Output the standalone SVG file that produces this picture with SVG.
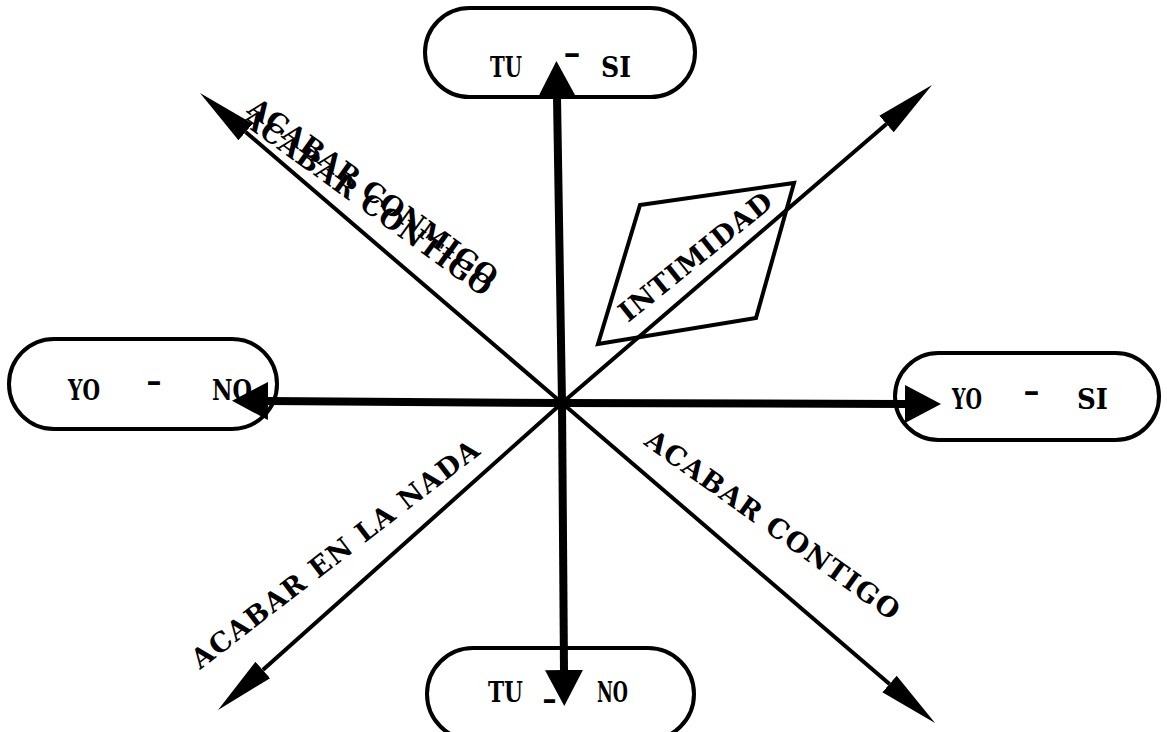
<svg xmlns="http://www.w3.org/2000/svg" width="1167" height="732" viewBox="0 0 1167 732">
<style>
.box{fill:none;stroke:#000;stroke-width:4}
.t{font-family:"DejaVu Serif","Liberation Serif",serif;font-weight:bold;font-size:28px;fill:#000}
.d{font-family:"DejaVu Serif","Liberation Serif",serif;font-weight:bold;font-size:27px;fill:#000}
.thick{fill:none;stroke:#000;stroke-width:8;marker-end:url(#ah)}
.thin{fill:none;stroke:#000;stroke-width:4;marker-end:url(#ahs)}
</style>
<defs>
<marker id="ah" markerUnits="userSpaceOnUse" markerWidth="40" markerHeight="44" viewBox="0 -22 40 44" refX="0" refY="0" orient="auto"><path d="M0,-19 L36,0 L0,19 Z" fill="#000"/></marker>
<marker id="ahs" markerUnits="userSpaceOnUse" markerWidth="62" markerHeight="26" viewBox="0 -13 62 26" refX="0" refY="0" orient="auto"><path d="M0,-11 L60,0 L0,11 Z" fill="#000"/></marker>
</defs>
<rect width="1167" height="732" fill="#fff"/>

<g id="node-tu-si">
<rect class="box" x="425" y="8" width="270" height="89" rx="44.5"/>
<text class="t" x="490" y="77" textLength="32" lengthAdjust="spacingAndGlyphs">TU</text>
<text class="t" x="563" y="63" textLength="18" lengthAdjust="spacingAndGlyphs">-</text>
<text class="t" x="601" y="77" textLength="30" lengthAdjust="spacingAndGlyphs">SI</text>
</g>

<g id="node-yo-no">
<rect class="box" x="9" y="339" width="268" height="90" rx="45"/>
<text class="t" x="68" y="400" textLength="32" lengthAdjust="spacingAndGlyphs">YO</text>
<text class="t" x="146" y="391" textLength="16" lengthAdjust="spacingAndGlyphs">-</text>
<text class="t" x="212" y="400" textLength="40" lengthAdjust="spacingAndGlyphs">NO</text>
</g>

<g id="node-yo-si">
<rect class="box" x="895" y="353" width="264" height="87" rx="43.5"/>
<text class="t" x="952" y="409" textLength="30" lengthAdjust="spacingAndGlyphs">YO</text>
<text class="t" x="1023" y="401" textLength="17" lengthAdjust="spacingAndGlyphs">-</text>
<text class="t" x="1077" y="409" textLength="31" lengthAdjust="spacingAndGlyphs">SI</text>
</g>

<g id="node-tu-no">
<rect class="box" x="427" y="648" width="267" height="92" rx="46"/>
<text class="t" x="488" y="702" textLength="35" lengthAdjust="spacingAndGlyphs">TU</text>
<text class="t" x="542" y="709" textLength="15" lengthAdjust="spacingAndGlyphs">-</text>
<text class="t" x="597" y="702" textLength="31" lengthAdjust="spacingAndGlyphs">NO</text>
</g>

<g id="node-intimidad">
<path class="box" d="M640,205 L794,183 L756,318 L598,344 Z"/>
<text class="d" transform="translate(628,323) rotate(-38.8)" textLength="188" lengthAdjust="spacing">INTIMIDAD</text>
</g>

<g id="label-conmigo">
<text class="d" transform="translate(246,112) rotate(35.8)" textLength="300" lengthAdjust="spacing">ACABAR CONMIGO</text>
<text class="d" transform="translate(240,122) rotate(35.8)" textLength="300" lengthAdjust="spacing">ACABAR CONTIGO</text>
</g>

<g id="label-nada">
<text class="d" transform="translate(200,670) rotate(-37.6)" textLength="355" lengthAdjust="spacing">ACABAR EN LA NADA</text>
</g>

<g id="label-contigo">
<text class="d" transform="translate(643,444) rotate(35.5)" textLength="305" lengthAdjust="spacing">ACABAR CONTIGO</text>
</g>

<g id="connectors">
<path class="thin" d="M562,403 L245.6,132"/>
<path class="thin" d="M562,403 L889.5,684"/>
<path class="thin" d="M562,403 L886.5,124"/>
<path class="thin" d="M562,403 L262.8,670"/>
<path class="thick" d="M562,403 L557,97"/>
<path class="thick" d="M562,403 L564,670"/>
<path class="thick" d="M562,403 L268,401"/>
<path class="thick" d="M562,403 L905,404"/>
</g>
</svg>
